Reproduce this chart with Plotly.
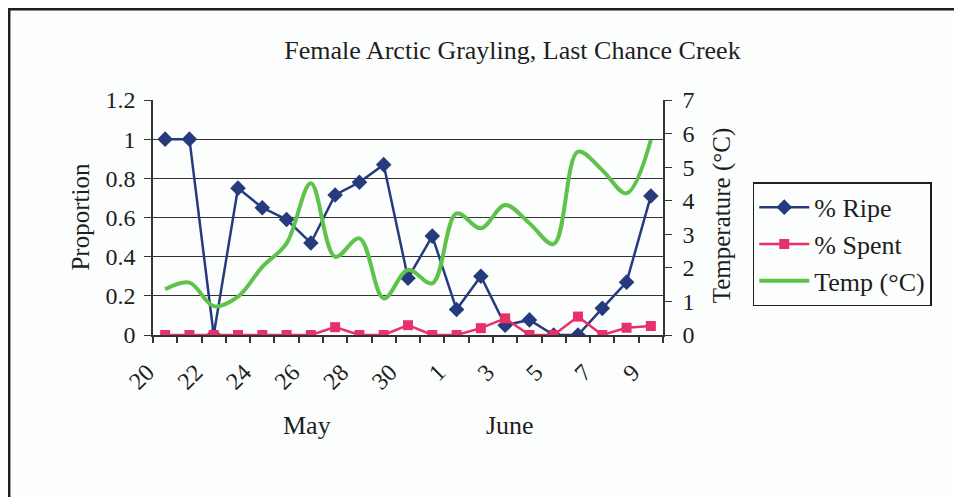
import plotly.graph_objects as go

# ---- data ----
dates = ["20", "21", "22", "23", "24", "25", "26", "27", "28", "29", "30", "31",
         "1", "2", "3", "4", "5", "6", "7", "8", "9"]
tick_labels = ["20", "22", "24", "26", "28", "30", "1", "3", "5", "7", "9"]
ripe = [1.0, 1.0, 0.0, 0.75, 0.65, 0.59, 0.47, 0.715, 0.78, 0.87,
        0.29, 0.505, 0.13, 0.30, 0.05, 0.077, 0.0, 0.0, 0.136, 0.27, 0.71]
spent = [0, 0, 0, 0, 0, 0, 0, 0.04, 0, 0,
         0.05, 0, 0, 0.035, 0.085, 0, 0, 0.094, 0, 0.037, 0.046]
temp = [1.36, 1.56, 0.86, 1.14, 2.03, 2.73, 4.52, 2.33, 2.88, 1.09,
        1.94, 1.54, 3.62, 3.18, 3.87, 3.33, 2.71, 5.46, 4.91, 4.22, 5.81]

x = list(range(1, len(dates) + 1))
tickvals = [x[i] for i, d in enumerate(dates) if d in tick_labels and i % 2 == 0]

FONT = "Liberation Serif, Times New Roman, serif"
INK = "#1e1e1e"
BLUE = "#263a7e"
PINK = "#e8306a"
GREEN = "#5fc24c"
BG = "#fcfdfd"

# plot area in figure pixels (page has an 8px body margin)
L, R, T, B = 145, 655, 92, 327
W, H = 962, 497
pw, ph = R - L, B - T

def px_x(v):
    return (v - L) / pw

def px_y(v):
    return (B - v) / ph

fig = go.Figure()
fig.add_trace(go.Scatter(x=x, y=ripe, name="% Ripe", mode="lines+markers",
                         line=dict(color=BLUE, width=2.5),
                         marker=dict(symbol="diamond", size=12, color=BLUE)))
fig.add_trace(go.Scatter(x=x, y=spent, name="% Spent", mode="lines+markers",
                         line=dict(color=PINK, width=2.5),
                         marker=dict(symbol="square", size=10, color=PINK)))
fig.add_trace(go.Scatter(x=x, y=temp, name="Temp (°C)", mode="lines",
                         line=dict(color=GREEN, width=4, shape="spline", smoothing=1.0),
                         yaxis="y2"))

fig.update_layout(
    width=W, height=H,
    margin=dict(l=L, r=W - R, t=T, b=H - B),
    paper_bgcolor=BG, plot_bgcolor=BG,
    font=dict(family=FONT, size=24, color=INK),
    showlegend=True,
    legend=dict(x=1.176, y=0.65, xanchor="left", yanchor="top",
                bgcolor=BG, bordercolor=INK, borderwidth=1.5,
                font=dict(family=FONT, size=26, color=INK),
                itemwidth=50, tracegroupgap=0),
    xaxis=dict(range=[0.5, len(dates) + 0.5], tickmode="array", tickvals=tickvals,
               ticktext=tick_labels, tickangle=-45, ticks="", showgrid=False,
               showline=True, linecolor="#333", linewidth=1.5, zeroline=False,
               ticklabelstandoff=12, ticklabelshift=-18,
               tickfont=dict(family=FONT, size=24, color=INK),
               minor=dict(tickmode="linear", tick0=0.5, dtick=1, ticks="outside",
                          ticklen=6, tickcolor="#333", tickwidth=1.5, showgrid=False)),
    yaxis=dict(range=[0, 1.2], dtick=0.2, tick0=0, showgrid=True, gridcolor="#333",
               gridwidth=1, showline=True, linecolor="#333", linewidth=1.5,
               ticks="outside", ticklen=7, tickcolor="#333", zeroline=False,
               ticklabelstandoff=4,
               tickfont=dict(family=FONT, size=24, color=INK)),
    yaxis2=dict(range=[0, 7], dtick=1, tick0=0, overlaying="y", side="right",
                showgrid=False, showline=True, linecolor="#333", linewidth=1.5,
                ticks="outside", ticklen=7, tickcolor="#333", zeroline=False,
                ticklabelstandoff=6,
                tickfont=dict(family=FONT, size=24, color=INK)),
    title=dict(text="Female Arctic Grayling, Last Chance Creek", x=504.5 / W, xref="container",
               xanchor="center", y=1 - 42 / H, yref="container", yanchor="middle",
               font=dict(family=FONT, size=26, color=INK)),
    annotations=[
        dict(text="Proportion", xref="paper", yref="paper", x=-0.143, y=0.5,
             textangle=-90, showarrow=False, xanchor="center", yanchor="middle",
             font=dict(family=FONT, size=25, color=INK)),
        dict(text="Temperature (°C)", xref="paper", yref="paper", x=1.116, y=0.51,
             textangle=-90, showarrow=False, xanchor="center", yanchor="middle",
             font=dict(family=FONT, size=25, color=INK)),
        dict(text="May", xref="paper", yref="paper", x=0.302, y=-0.383,
             showarrow=False, xanchor="center", yanchor="middle",
             font=dict(family=FONT, size=26, color=INK)),
        dict(text="June", xref="paper", yref="paper", x=0.70, y=-0.383,
             showarrow=False, xanchor="center", yanchor="middle",
             font=dict(family=FONT, size=26, color=INK)),
    ],
    shapes=[dict(type="rect", xref="paper", yref="paper",
                 x0=px_x(1.2), x1=px_x(W + 20),
                 y0=px_y(H + 20), y1=px_y(1.2),
                 line=dict(color=INK, width=2.5), fillcolor="rgba(0,0,0,0)", layer="below")],
)

fig.write_html("out.html")
